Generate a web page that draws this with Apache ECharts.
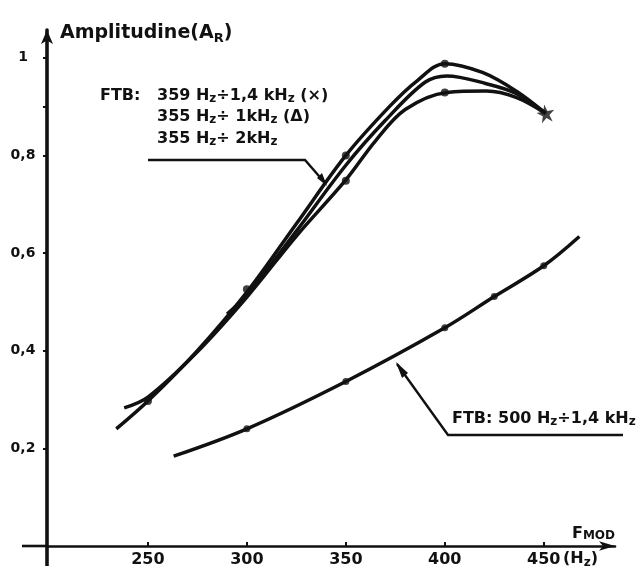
<!DOCTYPE html>
<html>
<head>
<meta charset="utf-8">
<script src="https://cdn.jsdelivr.net/npm/echarts@6/dist/echarts.min.js"></script>
<style>
html,body{margin:0;padding:0;background:#fff;}
#c{width:640px;height:573px;}
</style>
</head>
<body>
<div id="c"></div>
<script>
// ---- data ----
const xTickValues = [250, 300, 350, 400, 450];
const yTickValues = [0.2, 0.4, 0.6, 0.8, 1];
const yTickMarks = [0.2, 0.4, 0.6, 0.8, 0.9, 1];

// FTB 359 Hz ÷ 1,4 kHz (×)
const curveA_hz  = [234, 250, 275, 300, 325, 350, 372, 386, 400, 419, 436, 451];
const curveA_val = [0.24, 0.297, 0.40, 0.52, 0.66, 0.80, 0.90, 0.953, 0.988, 0.970, 0.932, 0.886];
// FTB 355 Hz ÷ 1 kHz (Δ)
const curveB_hz  = [290, 300, 325, 350, 370, 390, 401, 421, 436, 451];
const curveB_val = [0.475, 0.515, 0.645, 0.78, 0.872, 0.950, 0.963, 0.947, 0.927, 0.886];
// FTB 355 Hz ÷ 2 kHz
const curveC_hz  = [238, 250, 275, 300, 325, 350, 365, 380, 401, 421, 436, 451];
const curveC_val = [0.283, 0.305, 0.398, 0.51, 0.635, 0.75, 0.83, 0.894, 0.929, 0.932, 0.919, 0.886];
// FTB 500 Hz ÷ 1,4 kHz
const curveD_hz  = [263, 300, 350, 400, 425, 450, 468];
const curveD_val = [0.184, 0.240, 0.337, 0.447, 0.511, 0.574, 0.634];

// measured-point markers
const dotsUpper_hz  = [250, 300, 350, 350, 400, 400];
const dotsUpper_val = [0.297, 0.526, 0.80, 0.748, 0.988, 0.929];
const dotsLower_hz  = [300, 350, 400, 425, 450];
const dotsLower_val = [0.240, 0.337, 0.447, 0.511, 0.574];
const star_hz  = [451];
const star_val = [0.886];

const pairs = (xs, ys) => xs.map((x, i) => [x, ys[i]]);
const INK = '#111';
const FONT = '"DejaVu Sans"';

const chart = echarts.init(document.getElementById('c'), null, {renderer: 'canvas'});

const lineSeries = (data) => ({
  type: 'line', data: data, smooth: 0.35, showSymbol: false, symbol: 'none',
  lineStyle: {color: INK, width: 3.5}, silent: true, z: 3
});

const starPath = 'path://M50,0 L61,35 L98,35 L68,57 L79,92 L50,70 L21,92 L32,57 L2,35 L39,35 Z';

const sub = (size, pad) => ({fontSize: size, fontWeight: 'bold', fontFamily: FONT, fill: INK, padding: [pad, 0, 0, 0], verticalAlign: 'top'});
const main = (size) => ({fontSize: size, fontWeight: 'bold', fontFamily: FONT, fill: INK, verticalAlign: 'top'});

chart.setOption({
  animation: false,
  backgroundColor: '#fff',
  grid: {left: 47, right: 25, top: 30, bottom: 27, containLabel: false, outerBoundsMode: 'none'},
  xAxis: {
    type: 'value', min: 199, max: 486,
    axisLine: {show: true, lineStyle: {color: INK, width: 2.6}, symbol: ['none', 'arrow'], symbolSize: [7, 16]},
    axisTick: {show: true, customValues: xTickValues, length: 4, inside: true, lineStyle: {color: INK, width: 2}},
    axisLabel: {show: true, customValues: xTickValues, margin: 6, color: INK, fontFamily: FONT, fontWeight: 'bold', fontSize: 16},
    splitLine: {show: false}
  },
  yAxis: {
    type: 'value', min: 0, max: 1.057,
    axisLine: {show: true, onZero: false, lineStyle: {color: INK, width: 3.6}, symbol: ['none', 'arrow'], symbolSize: [9, 14]},
    axisTick: {show: true, customValues: yTickMarks, length: 4, lineStyle: {color: INK, width: 2}},
    axisLabel: {show: true, customValues: yTickValues, margin: 24, align: 'center', color: INK, fontFamily: FONT, fontWeight: 'bold', fontSize: 14,
      formatter: v => (Math.abs(v - 1) < 1e-9 ? '1' : v.toFixed(1).replace('.', ','))},
    splitLine: {show: false}
  },
  series: [
    lineSeries(pairs(curveA_hz, curveA_val)),
    lineSeries(pairs(curveB_hz, curveB_val)),
    lineSeries(pairs(curveC_hz, curveC_val)),
    lineSeries(pairs(curveD_hz, curveD_val)),
    {type: 'scatter', data: pairs(dotsUpper_hz, dotsUpper_val), symbol: 'circle', symbolSize: 8, itemStyle: {color: INK}, z: 4, silent: true},
    {type: 'scatter', data: pairs(dotsLower_hz, dotsLower_val), symbol: 'circle', symbolSize: 7, itemStyle: {color: INK}, z: 4, silent: true},
    {type: 'scatter', data: pairs(star_hz, star_val), symbol: starPath, symbolSize: 18, symbolRotate: 10, itemStyle: {color: INK}, z: 5, silent: true}
  ],
  graphic: [
    // x axis overhang to the left of the y axis, y axis overhang below the x axis
    {type: 'line', shape: {x1: 22, y1: 546, x2: 47, y2: 546}, style: {stroke: INK, lineWidth: 2.6}},
    {type: 'line', shape: {x1: 47, y1: 546, x2: 47, y2: 566}, style: {stroke: INK, lineWidth: 3.6}},
    // y axis title
    {type: 'text', left: 60, top: 24, style: {text: '{a|Amplitudine(A}{s|R}{a|)}', rich: {a: main(19), s: sub(13, 8)}}},
    // x axis title
    {type: 'text', left: 572, top: 526, style: {text: '{a|F}{s|MOD}', rich: {a: main(16), s: sub(12, 4)}}},
    // unit after 450
    {type: 'text', left: 563, top: 551, style: {text: '{a|(H}{s|z}{a|)}', rich: {a: main(16), s: sub(12, 6)}}},
    // legend block for upper curves
    {type: 'text', left: 100, top: 88, style: {text: '{a|FTB:}', rich: {a: main(16)}}},
    {type: 'text', left: 157, top: 88, style: {text: '{a|359 H}{s|z}{a|÷1,4 kH}{s|z}{a| (×)}', rich: {a: main(16), s: sub(12, 5)}}},
    {type: 'text', left: 157, top: 109, style: {text: '{a|355 H}{s|z}{a|÷ 1kH}{s|z}{a| (Δ)}', rich: {a: main(16), s: sub(12, 5)}}},
    {type: 'text', left: 157, top: 131, style: {text: '{a|355 H}{s|z}{a|÷ 2kH}{s|z}', rich: {a: main(16), s: sub(12, 5)}}},
    // leader for upper legend
    {type: 'polyline', shape: {points: [[148, 160], [305, 160], [325, 183]]}, style: {stroke: INK, lineWidth: 2.4, fill: null}},
    {type: 'polygon', shape: {points: [[327, 186], [317, 178], [322, 173]]}, style: {fill: INK}},
    // lower curve label
    {type: 'text', left: 452, top: 411, style: {text: '{a|FTB: 500 H}{s|z}{a|÷1,4 kH}{s|z}', rich: {a: main(16), s: sub(12, 5)}}},
    {type: 'polyline', shape: {points: [[397, 364], [448, 435], [623, 435]]}, style: {stroke: INK, lineWidth: 2.4, fill: null}},
    {type: 'polygon', shape: {points: [[396, 362], [408, 373], [402, 378]]}, style: {fill: INK}}
  ]
});
</script>
</body>
</html>
